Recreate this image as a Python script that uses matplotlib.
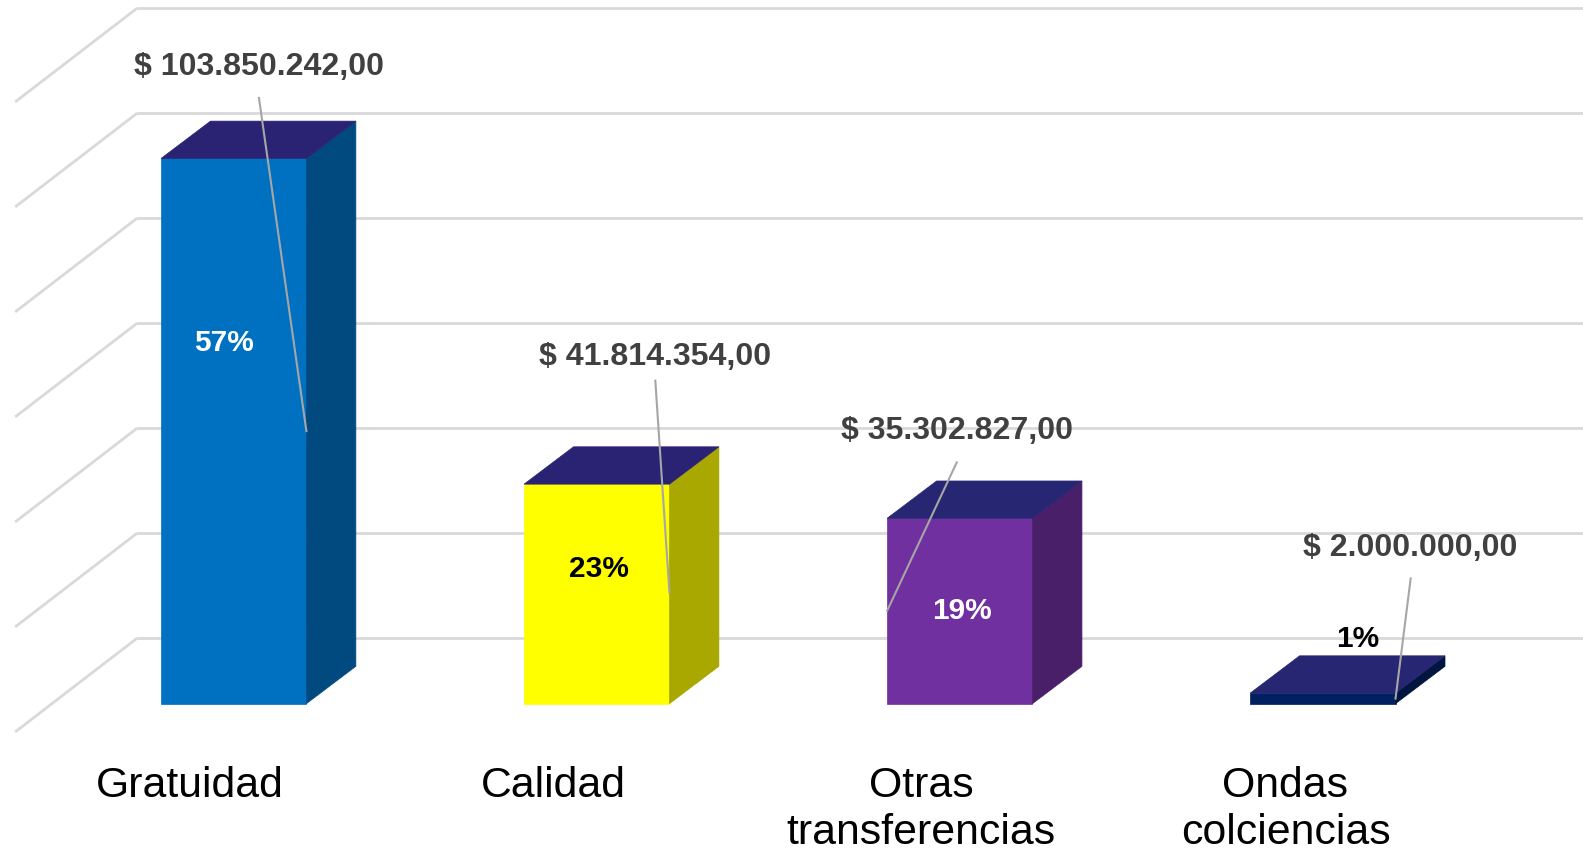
import matplotlib
matplotlib.use("Agg")
import matplotlib.pyplot as plt
from matplotlib.patches import Polygon

plt.rcParams['font.family'] = ['Liberation Sans', 'DejaVu Sans']

categories = ["Gratuidad", "Calidad", "Otras\ntransferencias", "Ondas\ncolciencias"]
values_m = [103.850242, 41.814354, 35.302827, 2.0]
value_labels = ["$ 103.850.242,00", "$ 41.814.354,00", "$ 35.302.827,00", "$ 2.000.000,00"]
pct_labels = ["57%", "23%", "19%", "1%"]
grid_values = [12.5, 32.5, 52.5, 72.5, 92.5, 112.5, 132.5]
front_colors = ["#0070C0", "#FFFF00", "#7030A0", "#002060"]
side_colors = ["#004A7F", "#A8A800", "#4A1F6A", "#00153F"]
top_colors = ["#2A2374", "#2A2374", "#262673", "#262673"]
pct_colors = ["white", "black", "white", "black"]

W, H = 1583, 850
S = 1583 / 1568
fig = plt.figure(figsize=(W / 100, H / 100), dpi=100, facecolor="white")
ax = fig.add_axes([0, 0, 1, 1])
# scale: bar baseline at 697 (shrunk px), 5.2 px per million; bar spacing 359.6 px
PX_PER_M = 5.2
PX_PER_CAT = 359.6
x0_px, base_px = 231.5, 697.0
ax.set_xlim(-x0_px / PX_PER_CAT, (W / S - x0_px) / PX_PER_CAT)
ax.set_ylim(-(H / S - base_px) / PX_PER_M, base_px / PX_PER_M)
ax.axis("off")

px = lambda v: v / PX_PER_CAT
py = lambda v: v / PX_PER_M

# walls / grid
gc = "#D9D9D9"
for g in grid_values:
    ax.plot([px(136 - x0_px), px(1568 - x0_px + 10)], [g, g], color=gc, lw=2, zorder=1, solid_capstyle="butt")
    ax.plot([px(136 - x0_px), px(15 - x0_px)], [g, g - py(93)], color=gc, lw=2, zorder=1, solid_capstyle="butt")

bw = px(144)
ddx, ddy = px(49), py(37)
xs = list(range(len(categories)))
ax.bar(xs, values_m, width=bw, color=front_colors, edgecolor=front_colors, zorder=3, linewidth=0.5)
for x, v, sc, tc in zip(xs, values_m, side_colors, top_colors):
    r, l = x + bw / 2, x - bw / 2
    ax.add_patch(Polygon([(r, 0), (r + ddx, ddy), (r + ddx, v + ddy), (r, v)], closed=True, fc=sc, ec=sc, lw=0.5, zorder=3))
    ax.add_patch(Polygon([(l, v), (l + ddx, v + ddy), (r + ddx, v + ddy), (r, v)], closed=True, fc=tc, ec=tc, lw=0.5, zorder=3))

# category labels: offsets in px relative to bar centre
cat_dx = [-43, -43, -38, -37]
for x, c, d in zip(xs, categories, cat_dx):
    ax.text(x + px(d), py(-55), c, ha="center", va="top", fontsize=30.8, color="black",
            linespacing=1.23, zorder=5, transform=ax.transData + matplotlib.transforms.Affine2D().translate(0, -7))

# percentage labels
pct_pos = [(-10, 357), (2, 133), (2, 92), (35, 64)]
for x, p, c, (dx, dy) in zip(xs, pct_labels, pct_colors, pct_pos):
    ax.text(x + px(dx), py(dy), p, ha="center", va="center", fontsize=21.5, fontweight="bold", color=c, zorder=6)

# value labels and leaders
lab_pos = [(25, 631), (58, 343), (-3, 270), (87, 154)]
lead_start = [(25, 600), (58, 320), (-3, 239), (87, 124)]
lead_end = [(72, 270), (72, 110), (-72, 92), (72, 5)]
for x, t, (lx, ly), (sx, sy), (ex, ey) in zip(xs, value_labels, lab_pos, lead_start, lead_end):
    ax.plot([x + px(sx), x + px(ex)], [py(sy), py(ey)], color="#A6A6A6", lw=1.5, zorder=7)
    ax.text(x + px(lx), py(ly), t, ha="center", va="center", fontsize=23.1, fontweight="bold", color="#404040", zorder=8)

fig.savefig("out.png", dpi=100)
